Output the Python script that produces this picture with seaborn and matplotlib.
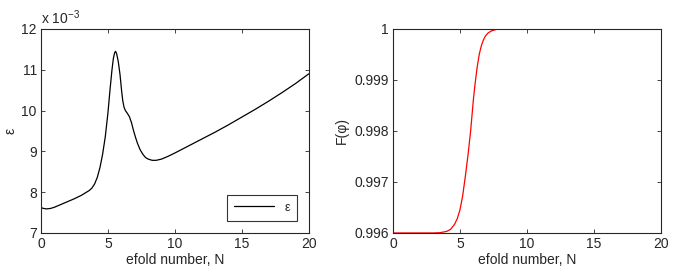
import matplotlib
matplotlib.use("Agg")
import matplotlib.pyplot as plt
import seaborn as sns
import pandas as pd
from matplotlib.ticker import FuncFormatter

sns.set_style("ticks")
plt.rcParams['font.family'] = ['Liberation Sans', 'DejaVu Sans']
plt.rcParams['mathtext.fontset'] = 'custom'
plt.rcParams['mathtext.rm'] = 'Liberation Sans'

# Left panel: epsilon (in units of 1e-3) vs efold number
n_eps = [0.0, 0.2, 0.4, 0.7, 1.0, 1.5, 2.0, 2.5, 3.0, 3.3, 3.6, 3.8, 4.0, 4.2, 4.4,
         4.6, 4.8, 5.0, 5.15, 5.3, 5.4, 5.5, 5.57, 5.65, 5.77, 5.9, 6.02, 6.1, 6.2,
         6.3, 6.45, 6.6, 6.75, 6.9, 7.05, 7.2, 7.4, 7.6, 7.8, 8.0, 8.3, 8.6, 9.0,
         9.5, 10.0, 11.0, 12.0, 13.0, 14.0, 15.0, 16.0, 17.0, 18.0, 19.0, 20.0]
eps = [7.62, 7.60, 7.59, 7.60, 7.63, 7.70, 7.77, 7.84, 7.92, 7.98, 8.04, 8.10, 8.20, 8.36, 8.60,
       8.93, 9.36, 9.95, 10.50, 11.00, 11.27, 11.42, 11.45, 11.39, 11.20, 10.88, 10.48, 10.25, 10.08,
       10.00, 9.93, 9.85, 9.71, 9.52, 9.35, 9.20, 9.04, 8.93, 8.85, 8.81, 8.78, 8.78, 8.81,
       8.88, 8.96, 9.13, 9.30, 9.47, 9.65, 9.84, 10.03, 10.23, 10.44, 10.66, 10.90]

# Right panel: F(phi) vs efold number
n_f = [0.0, 1.0, 2.0, 3.0, 3.5, 4.0, 4.3, 4.6, 4.8, 5.0, 5.2, 5.4, 5.6, 5.8, 6.0, 6.1,
       6.2, 6.3, 6.45, 6.6, 6.75, 6.9, 7.1, 7.35, 7.7, 8.2, 9.0, 10.0, 15.0, 20.0]
f_phi = [0.99600, 0.99600, 0.99600, 0.99600, 0.996005, 0.99603, 0.99607, 0.99617, 0.99628, 0.99645,
         0.99672, 0.99710, 0.99752, 0.99800, 0.99860, 0.99885, 0.99907, 0.99927, 0.99951, 0.99967,
         0.99978, 0.99986, 0.99992, 0.99996, 0.99999, 1.0, 1.0, 1.0, 1.0, 1.0]

df_eps = pd.DataFrame({"N": n_eps, "eps": eps})
df_f = pd.DataFrame({"N": n_f, "F": f_phi})

fig = plt.figure(figsize=(6.78, 2.78), dpi=100)
ax1 = fig.add_axes([0.0605, 0.162, 0.395, 0.734])
ax2 = fig.add_axes([0.5796, 0.162, 0.395, 0.734])

FS = 10
sns.lineplot(data=df_eps, x="N", y="eps", ax=ax1, color="black", lw=0.9, label="ε")
sns.lineplot(data=df_f, x="N", y="F", ax=ax2, color="red", lw=0.9, legend=False)

ax1.set_xlim(0, 20)
ax1.set_ylim(7, 12)
ax1.set_xticks([0, 5, 10, 15, 20])
ax1.set_yticks([7, 8, 9, 10, 11, 12])
ax1.set_xlabel("efold number, N", fontsize=FS, labelpad=1)
ax1.set_ylabel("ε", fontsize=FS, labelpad=3)
ax1.text(0.0, 1.01, r"x 10$^{-3}$", transform=ax1.transAxes, fontsize=FS, ha="left", va="bottom")
leg = ax1.legend(loc="lower right", fontsize=FS - 1, frameon=True, fancybox=False,
                 edgecolor="black", handlelength=3.2, borderpad=0.55,
                 bbox_to_anchor=(0.978, 0.03))
leg.get_frame().set_linewidth(0.8)

ax2.set_xlim(0, 20)
ax2.set_ylim(0.996, 1.0)
ax2.set_xticks([0, 5, 10, 15, 20])
ax2.set_yticks([0.996, 0.997, 0.998, 0.999, 1.0])
ax2.yaxis.set_major_formatter(FuncFormatter(lambda v, p: "%g" % round(v, 6)))
ax2.set_xlabel("efold number, N", fontsize=FS, labelpad=1)
ax2.set_ylabel("F(φ)", fontsize=FS, labelpad=4)

for ax in (ax1, ax2):
    ax.tick_params(direction="in", top=True, right=True, length=3, width=0.6,
                   labelsize=FS, pad=3)
    for s in ax.spines.values():
        s.set_linewidth(0.8)
        s.set_visible(True)

fig.savefig("out.png", dpi=100)
